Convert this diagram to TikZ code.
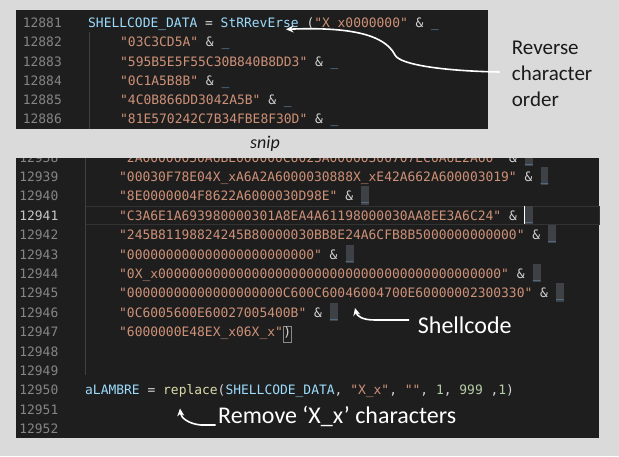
\documentclass[tikz,border=0pt]{standalone}
\usepackage{fontspec}
\setmainfont{Carlito}
\setmonofont{DejaVu Sans Mono}
\usetikzlibrary{arrows.meta}

\definecolor{pagegray}{HTML}{DADADA}
\definecolor{panelbg}{HTML}{1E1E1E}
\definecolor{lngray}{HTML}{858585}
\definecolor{lnactive}{HTML}{C6C6C6}
\definecolor{strc}{HTML}{CE9178}
\definecolor{idc}{HTML}{9CDCFE}
\definecolor{fnc}{HTML}{DCDCAA}
\definecolor{numc}{HTML}{B5CEA8}
\definecolor{opc}{HTML}{D4D4D4}
\definecolor{usc}{HTML}{6E9CC2}
\definecolor{selgray}{HTML}{3E4146}
\definecolor{rowline}{HTML}{333333}
\definecolor{guideline}{HTML}{404040}
\definecolor{boxedge}{HTML}{8A8A8A}
\definecolor{notedark}{HTML}{1A1A1A}

\newcommand{\codefont}{\ttfamily\fontsize{12.95pt}{19pt}\selectfont\frenchspacing}
\newcommand{\codestr}[1]{\textcolor{strc}{"#1"}}
\newcommand{\cont}{\textcolor{usc}{\_}}

\tikzset{
  code/.style={font=\codefont, text=opc, inner sep=0pt, anchor=base west},
  lnum/.style={font=\codefont, inner sep=0pt, anchor=base east},
  usbox/.style={font=\codefont, text=usc, fill=selgray, inner sep=0pt,
    text height=14.5pt, text depth=3.8pt, anchor=base west},
  parenbox/.style={font=\codefont, text=opc, draw=boxedge, line width=0.6pt,
    inner sep=0pt, text height=10.4pt, text depth=5.6pt, anchor=base west},
  guide/.style={draw=guideline, line width=0.8pt},
  note/.style={inner sep=0pt},
  callout/.style={draw=white, line width=1.6pt, -{Stealth[length=7.5pt,width=7pt]}},
}

\begin{document}
\begin{tikzpicture}[x=1pt,y=-1pt]
        \useasboundingbox (0,0) rectangle (619,456);
        \fill[pagegray] (0,0) rectangle (619,456);
        %% Top panel
        \fill[panelbg] (15.7,10) rectangle (487.7,129);
        \draw[guide] (89,31.7) -- (89,129);
        \foreach \n [count=\i from 0] in {12881,...,12886}
            \node[lnum, text=lngray] (ln\n) at (62,{27.5+19.26*\i}) {\n};
        \node[code] (r12881) at (88,27.5) {\textcolor{idc}{SHELLCODE\_DATA} = \textcolor{idc}{StRRevErse} (\codestr{X\_x0000000} \& \cont};
        \node[code] (r12882) at (120,46.76) {\codestr{03C3CD5A} \& \cont};
        \node[code] (r12883) at (120,66.02) {\codestr{595B5E5F55C30B840B8DD3} \& \cont};
        \node[code] (r12884) at (120,85.28) {\codestr{0C1A5B8B} \& \cont};
        \node[code] (r12885) at (120,104.54) {\codestr{4C0B866DD3042A5B} \& \cont};
        \node[code] (r12886) at (120,123.8) {\codestr{81E570242C7B34FBE8F30D} \& \cont};
        \node[note, anchor=west, align=left, text=notedark,
            font=\fontsize{21pt}{26pt}\selectfont] (revnote) at (511.7,74)
            {Reverse\\character\\order};
        %% snip
        \node[note, anchor=base, text=notedark,
            font=\fontsize{18pt}{20pt}\selectfont\itshape] (snip) at (265,148.3) {snip};
        %% Bottom panel
        \fill[panelbg] (15.7,158) rectangle (599,438);
        \draw[rowline, line width=0.8pt] (85.7,206.8) rectangle (599,224);
        \draw[guide] (85.7,158) -- (85.7,375);
        \begin{scope}
            \clip (15.7,158) rectangle (599,438);
            \foreach \n [count=\k from 0] in {12938,...,12952} {
                \def\lncol{lngray}
                \ifnum\n=12941 \def\lncol{lnactive}\fi
                \node[lnum, text=\lncol] (ln\n) at (58.5,{162+19.4*\k}) {\n};
            }
            \foreach \n/\hex [count=\k from 0] in {
                12938/2A00000030A6BE000000C6023A00000300707EC0A6E2A60,
                12939/00030F78E04X\_xA6A2A6000030888X\_xE42A662A600003019,
                12940/8E0000004F8622A6000030D98E,
                12941/C3A6E1A693980000301A8EA4A61198000030AA8EE3A6C24,
                12942/245B81198824245B80000030BB8E24A6CFB8B5000000000000,
                12943/000000000000000000000000,
                12944/0X\_x00000000000000000000000000000000000000000000,
                12945/00000000000000000000C600C60046004700E60000002300330,
                12946/0C6005600E60027005400B} {
                \node[code] (r\n) at (119,{162+19.4*\k}) {\codestr{\hex} \&};
                \node[usbox] (u\n) at ([xshift=7.8pt]r\n.base east) {\_};
            }
        \end{scope}
        \draw[white, line width=1pt] (u12941.north west) -- (u12941.south west);
        \node[code] (r12947) at (119,336.6) {\codestr{6000000E48EX\_x06X\_x}};
        \node[parenbox] (p12947) at (r12947.base east) {)};
        \node[code] (r12950) at (85,394.8) {\textcolor{idc}{aLAMBRE} = \textcolor{fnc}{replace}(\textcolor{idc}{SHELLCODE\_DATA}, \codestr{X\_x}, \codestr{}, \textcolor{numc}{1}, \textcolor{numc}{999} ,\textcolor{numc}{1})};
        \node[note, anchor=base west, text=white,
            font=\fontsize{24pt}{28pt}\selectfont] (shellnote) at (417.7,333) {Shellcode};
        \node[note, anchor=base west, text=white,
            font=\fontsize{24pt}{28pt}\selectfont] (removenote) at (218,423) {Remove ‘X\_x’ characters};
        %% Callouts
        \coordinate (revfrom) at ([xshift=-12pt,yshift=2pt]revnote.west);
        \coordinate (revtip) at (286,29.3);
        \coordinate (shellfrom) at (409,320);
        \coordinate (shelltip) at (355,308);
        \coordinate (removefrom) at (215.5,425);
        \coordinate (removetip) at (180,408.5);
        \draw[callout] (revfrom) .. controls (445,71) and (400,65) .. (395,55)
            .. controls (384,33) and (345,27) .. (revtip);
        \draw[callout] (shellfrom) -- (375,320) .. controls (362,320) and (357,316) .. (shelltip);
        \draw[callout] (removefrom) -- (201,425) .. controls (189,424) and (181,418) .. (removetip);
    \end{tikzpicture}
\end{document}
